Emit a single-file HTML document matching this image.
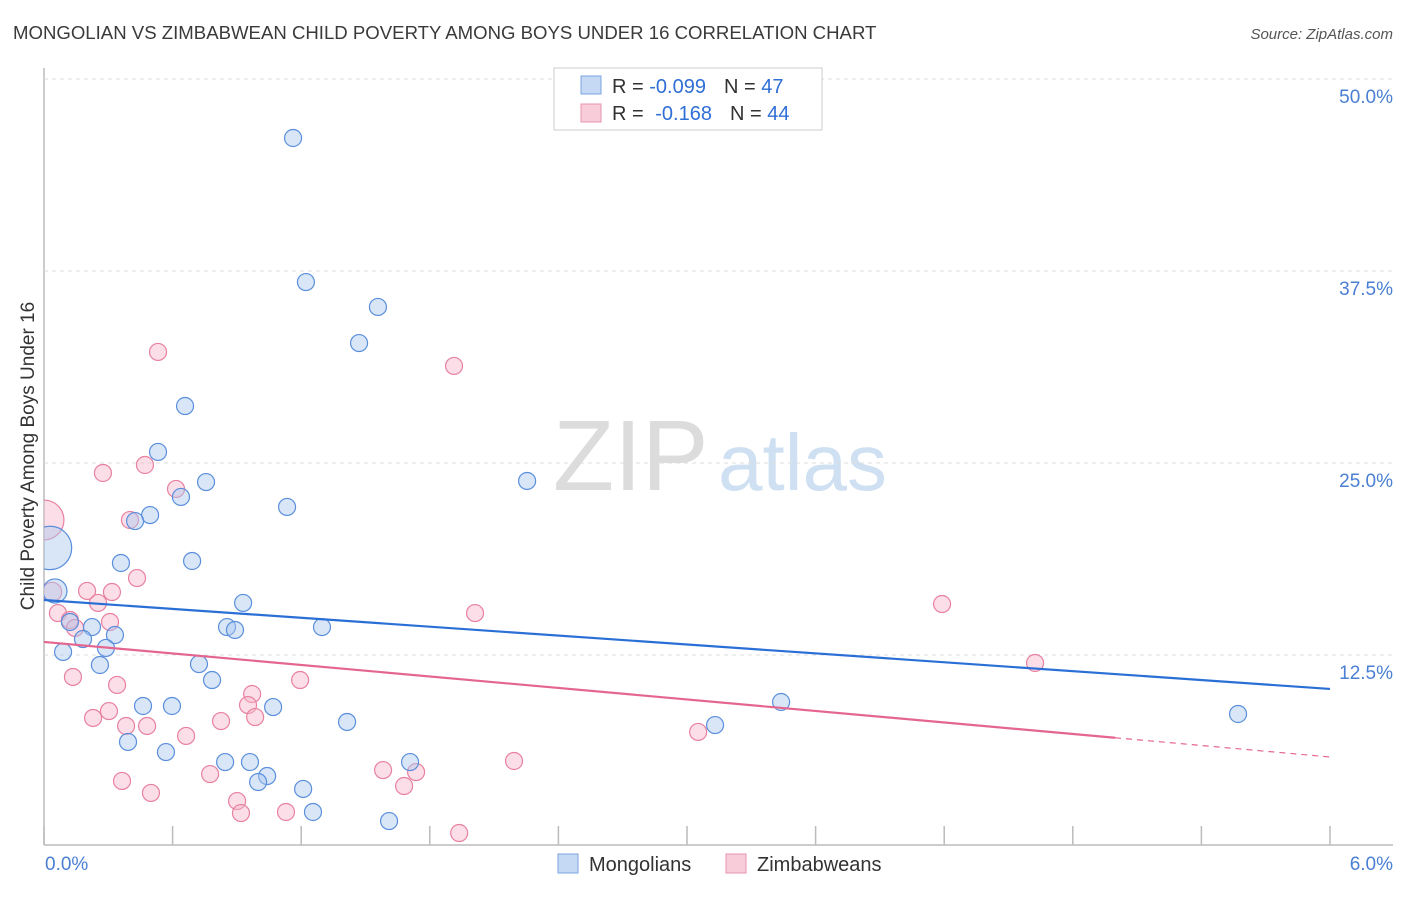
<!DOCTYPE html>
<html><head><meta charset="utf-8"><style>
body{margin:0;background:#fff;font-family:"Liberation Sans",sans-serif}
svg text{font-family:"Liberation Sans",sans-serif}
</style></head><body>
<svg id="c" width="1406" height="892" xmlns="http://www.w3.org/2000/svg">
<defs><clipPath id="plotclip"><rect x="44" y="60" width="1360" height="785"/></clipPath></defs>
<text x="13" y="39" font-size="18.6" fill="#3a3a3a">MONGOLIAN VS ZIMBABWEAN CHILD POVERTY AMONG BOYS UNDER 16 CORRELATION CHART</text>
<text x="1393" y="39" font-size="15" fill="#555" font-style="italic" text-anchor="end">Source: ZipAtlas.com</text>
<g><text x="553" y="490" font-size="100" fill="#dcdcdc" font-family="Liberation Serif">ZIP</text><text x="718" y="490" font-size="80" fill="#cfe0f3">atlas</text></g>
<g id="grid"></g><g id="pts" clip-path="url(#plotclip)"></g><g id="trend"></g>
<text transform="translate(34,456) rotate(-90)" font-size="19" fill="#333" text-anchor="middle">Child Poverty Among Boys Under 16</text>
<text x="45" y="870" font-size="19" fill="#4a7fd4">0.0%</text>
<text x="1393" y="870" font-size="19" fill="#4a7fd4" text-anchor="end">6.0%</text>
<g>
<rect x="554" y="68" width="268" height="62" fill="#fff" stroke="#ccc"/>
<rect x="581" y="76" width="20" height="18" fill="#c5d9f5" stroke="#7aa4e0"/>
<rect x="581" y="104" width="20" height="18" fill="#f9ccd9" stroke="#e895ad"/>
<text x="612" y="93" font-size="20" fill="#333">R = <tspan fill="#2f6fd6">-0.099</tspan><tspan dx="18">N = </tspan><tspan fill="#2f6fd6">47</tspan></text>
<text x="612" y="120" font-size="20" fill="#333">R = <tspan dx="6" fill="#2f6fd6">-0.168</tspan><tspan dx="18">N = </tspan><tspan fill="#2f6fd6">44</tspan></text>
</g>
<g>
<rect x="558" y="854" width="20" height="19" fill="#c5d9f5" stroke="#7aa4e0"/>
<text x="589" y="871" font-size="20" fill="#333">Mongolians</text>
<rect x="726" y="854" width="20" height="19" fill="#f9ccd9" stroke="#e895ad"/>
<text x="757" y="871" font-size="20" fill="#333">Zimbabweans</text>
</g>
</svg>
<script>
const yTicks=[12.5,25,37.5,50];
const yTickLabels=["12.5%","25.0%","37.5%","50.0%"];
const xTicks=[0,0.6,1.2,1.8,2.4,3.0,3.6,4.2,4.8,5.4,6.0];
const blueX=[1.162,1.222,1.558,1.470,0.658,0.532,0.756,0.639,0.495,0.425,1.134,2.254,0.028,0.359,0.691,0.051,0.929,0.854,0.891,1.297,0.121,0.224,0.331,0.182,0.089,0.289,0.261,0.723,0.784,0.462,0.597,1.069,1.414,3.439,3.131,5.571,0.392,0.569,0.845,0.961,1.708,1.041,0.999,1.209,1.255,1.610];
const blueY=[46.16,36.78,35.16,32.81,28.71,25.72,23.76,22.79,21.61,21.22,22.14,23.83,19.47,18.49,18.62,16.67,15.89,14.32,14.13,14.32,14.65,14.32,13.80,13.54,12.70,12.96,11.85,11.91,10.87,9.18,9.18,9.11,8.14,9.44,7.94,8.66,6.84,6.18,5.53,5.53,5.53,4.62,4.23,3.78,2.28,1.69];
const blueW=[1,1,1,1,1,1,1,1,1,1,1,1,6.5,1,1,2,1,1,1,1,1,1,1,1,1,1,1,1,1,1,1,1,1,1,1,1,1,1,1,1,1,1,1,1,1,1];
const pinkX=[0.532,1.913,0.275,0.471,0.616,0.401,0,0.037,0.434,0.201,0.317,0.252,0.065,0.121,0.145,0.308,2.011,4.190,4.624,0.135,0.341,1.195,0.971,0.952,0.303,0.229,0.985,0.826,0.383,0.481,0.663,3.052,2.193,0.775,1.582,1.736,1.680,0.364,0.499,0.901,0.919,1.129,1.937];
const pinkY=[32.23,31.32,24.35,24.87,23.31,21.29,21.29,16.60,17.51,16.67,16.60,15.89,15.23,14.78,14.26,14.65,15.23,15.82,11.98,11.07,10.55,10.87,9.96,9.24,8.85,8.40,8.46,8.20,7.88,7.88,7.23,7.49,5.60,4.75,5.01,4.88,3.97,4.30,3.52,2.99,2.21,2.28,0.91];
const pinkW=[1,1,1,1,1,1,5.5,1.3,1,1,1,1,1,1,1,1,1,1,1,1,1,1,1,1,1,1,1,1,1,1,1,1,1,1,1,1,1,1,1,1,1,1,1];
const blueTrend=[16.08,10.29];
const pinkTrend=[13.35,5.86];
const pinkSolidEnd=4.997;
const NS="http://www.w3.org/2000/svg";
const X=v=>44+v/6*1286, Y=v=>847-v*15.36;
function mk(p,t,a){const e=document.createElementNS(NS,t);for(const k in a)e.setAttribute(k,a[k]);p.appendChild(e);return e;}
const g=document.getElementById('grid');
let e=mk(g,'line',{x1:44,y1:68,x2:44,y2:845,stroke:'#bbb','stroke-width':1.5});


e=mk(g,'line',{x1:44,y1:845,x2:1393,y2:845,stroke:'#bbb','stroke-width':1.5});


yTicks.forEach((t,i)=>{
 e=mk(g,'line',{x1:44,y1:Y(t),x2:1393,y2:Y(t),stroke:'#ddd','stroke-dasharray':'4,4'});
 
 
 e=mk(g,'text',{x:1393,y:Y(t)+24,'font-size':19,fill:'#4a7fd4','text-anchor':'end'});
 e.textContent=yTickLabels[i];
 
 
});
xTicks.forEach(t=>{
 e=mk(g,'line',{x1:X(t),y1:826,x2:X(t),y2:845,stroke:'#bbb','stroke-width':1.5});
 
 
});
const P=document.getElementById('pts');
function pts(xs,ys,ws,fill,stroke,name){xs.forEach((x,i)=>{
 e=mk(P,'circle',{cx:X(x),cy:Y(ys[i]),r:8.5*Math.sqrt(ws[i]),fill:fill,'fill-opacity':0.45,stroke:stroke,'stroke-width':1.2});
 
 
});}
pts(pinkX,pinkY,pinkW,'#f7b6c9','#e8819f','zimbabwean-point');
pts(blueX,blueY,blueW,'#a9c8f0','#5b8fdc','mongolian-point');
const T=document.getElementById('trend');
e=mk(T,'line',{x1:X(0),y1:Y(blueTrend[0]),x2:X(6),y2:Y(blueTrend[1]),stroke:'#2a6fd6','stroke-width':2.2});


const pm=pinkTrend[0]+(pinkTrend[1]-pinkTrend[0])*pinkSolidEnd/6;
e=mk(T,'line',{x1:X(0),y1:Y(pinkTrend[0]),x2:X(pinkSolidEnd),y2:Y(pm),stroke:'#e4668f','stroke-width':2.2});


e=mk(T,'line',{x1:X(pinkSolidEnd),y1:Y(pm),x2:X(6),y2:Y(pinkTrend[1]),stroke:'#e4668f','stroke-width':1.2,'stroke-dasharray':'6,5'});


</script>
</body></html>
